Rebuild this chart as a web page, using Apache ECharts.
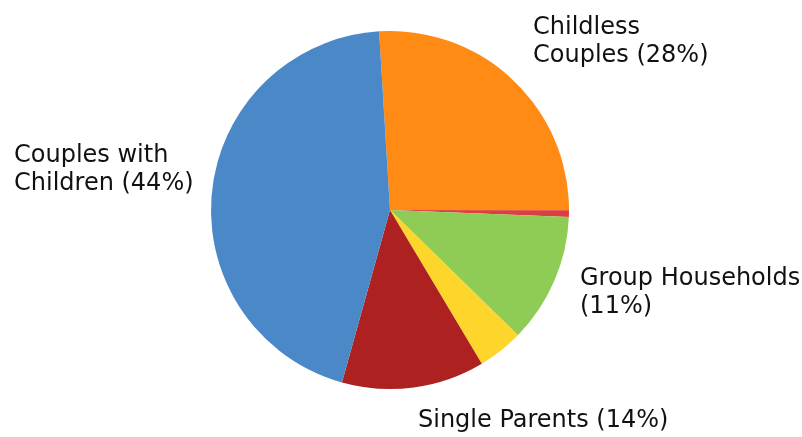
<!DOCTYPE html>
<html>
<head>
<meta charset="utf-8">
<script src="https://cdn.jsdelivr.net/npm/echarts@6/dist/echarts.min.js"></script>
<style>
html,body{margin:0;padding:0;background:#fff;}
#c{width:802px;height:437px;}
</style>
</head>
<body>
<div id="c"></div>
<script>
// Data (slice shares in %)
const categories = ['Childless Couples', 'Other', 'Group Households', 'Other Families', 'Single Parents', 'Couples with Children'];
const values = [26.0, 0.6, 11.7, 4.1, 12.9, 44.7];
const labelTexts = ['Childless\nCouples (28%)', '', 'Group Households\n(11%)', '', 'Single Parents (14%)', 'Couples with\nChildren (44%)'];

const colors = ['#ff8a14', '#dc3f3f', '#8fcc55', '#fed62b', '#ad2121', '#4a88c7'];
const labelPlace = [
  {x: 533, y: 14},
  null,
  {x: 580, y: 265},
  null,
  {x: 418, y: 407},
  {x: 14, y: 142}
];

const chart = echarts.init(document.getElementById('c'));
chart.setOption({
  animation: false,
  series: [{
    type: 'pie',
    center: [390, 210],
    radius: 179,
    startAngle: 93.5,
    clockwise: true,
    avoidLabelOverlap: false,
    data: categories.map((n, i) => ({
      name: n,
      value: values[i],
      itemStyle: {color: colors[i]},
      label: {show: !!labelTexts[i]},
      labelLine: {show: false}
    })),
    label: {
      position: 'outside',
      formatter: p => labelTexts[p.dataIndex],
      fontFamily: 'DejaVu Sans',
      fontSize: 24,
      lineHeight: 28,
      color: '#111111',
      align: 'left'
    },
    labelLine: {show: false},
    labelLayout: function (params) {
      const p = labelPlace[params.dataIndex];
      if (!p) return {};
      return {x: p.x, y: p.y, align: 'left', verticalAlign: 'top'};
    },
    emphasis: {disabled: true}
  }]
});
</script>
</body>
</html>
